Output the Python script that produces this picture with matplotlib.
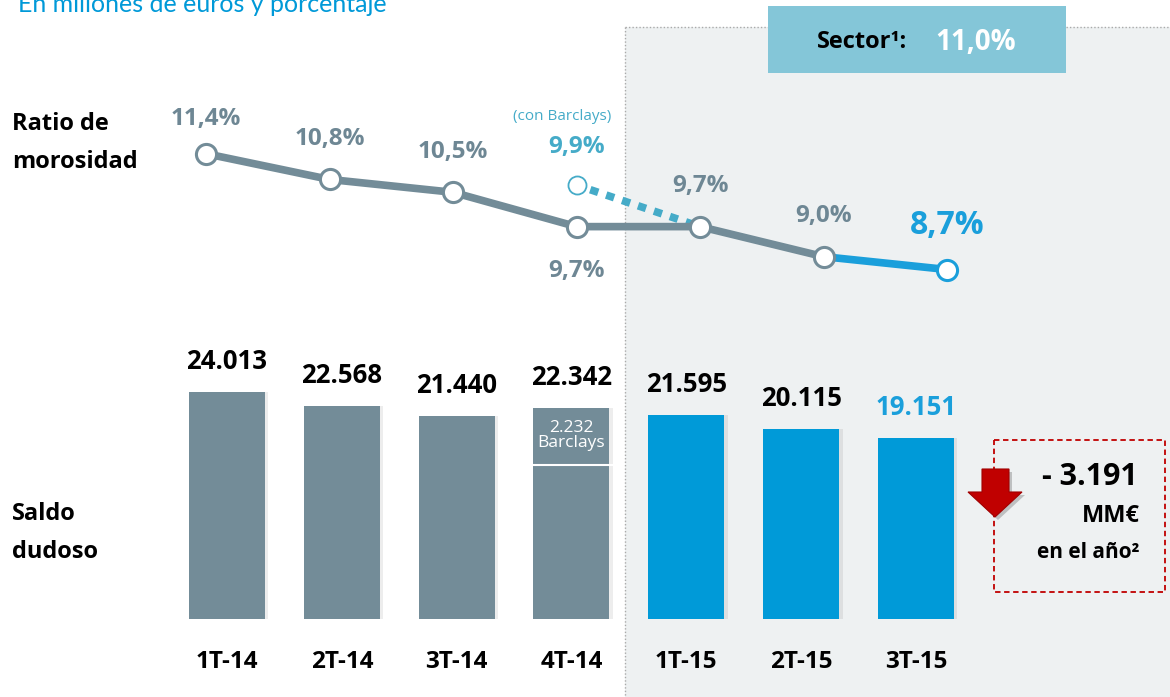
import matplotlib
matplotlib.use("Agg")
import matplotlib.pyplot as plt
from matplotlib.patches import Rectangle, Polygon
from matplotlib.transforms import ScaledTranslation

plt.rcParams['font.family'] = ['Open Sans', 'DejaVu Sans']

# datos
trimestres = ["1T-14", "2T-14", "3T-14", "4T-14", "1T-15", "2T-15", "3T-15"]
saldo_dudoso = [24013, 22568, 21440, 22342, 21595, 20115, 19151]
saldo_etiquetas = ["24.013", "22.568", "21.440", "22.342", "21.595", "20.115", "19.151"]
ratio_morosidad = [11.4, 10.8, 10.5, 9.7, 9.7, 9.0, 8.7]
ratio_etiquetas = ["11,4%", "10,8%", "10,5%", "9,7%", "9,7%", "9,0%", "8,7%"]
ratio_con_barclays = 9.9
barclays = 2232
sector = "11,0%"
reduccion = "- 3.191"

GRIS = "#738C98"
AZUL = "#009AD8"
AZUL_TXT = "#1A9FDB"
TEAL = "#45ABC8"
GRIS_TXT = "#6E8794"
ROJO = "#C00000"

W, H = 1170, 697
fig = plt.figure(figsize=(W / 100, H / 100), dpi=100)

# capa de fondo en pixeles
ax0 = fig.add_axes([0, 0, 1, 1])
ax0.set_xlim(0, W)
ax0.set_ylim(H, 0)
ax0.axis('off')

ax0.add_patch(Rectangle((625, 27), W - 625, H - 27, facecolor="#EEF1F2", edgecolor="none", zorder=0))
ax0.plot([625, 625], [27, H], color="#AAAAAA", lw=1, ls=(0, (1, 1.5)), zorder=1)
ax0.plot([625, W], [27, 27], color="#AAAAAA", lw=1, ls=(0, (1, 1.5)), zorder=1)
ax0.add_patch(Rectangle((768, 6), 298, 67, facecolor="#84C6D8", edgecolor="none", zorder=2))
ax0.text(862, 42, "Sector¹:", fontsize=17, fontweight='bold', color="black",
         ha='center', va='center', zorder=3)
ax0.text(976, 42, sector, fontsize=20, fontweight='bold', color="white", ha='center', va='center', zorder=3)

ax0.text(18, 12, "En millones de euros y porcentaje", fontsize=18, color="#0099D8",
         va='baseline', ha='left', family=['Lato', 'DejaVu Sans'])
ax0.text(12, 124, "Ratio de", fontsize=17, fontweight='bold', va='center')
ax0.text(12, 162, "morosidad", fontsize=17, fontweight='bold', va='center')
ax0.text(12, 514, "Saldo", fontsize=17, fontweight='bold', va='center')
ax0.text(12, 552, "dudoso", fontsize=17, fontweight='bold', va='center')

# caja roja
ax0.add_patch(Rectangle((994, 440), 171, 152, facecolor="none", edgecolor=ROJO, lw=1.3,
                        ls=(0, (3, 2)), zorder=3))
ax0.text(1090, 477, reduccion, fontsize=22, fontweight='bold', ha='center', va='center', zorder=4)
ax0.text(1140, 516, "MM€", fontsize=17, fontweight='bold', ha='right', va='center', zorder=4)
ax0.text(1088, 553, "en el año²", fontsize=15, fontweight='bold', ha='center', va='center', zorder=4)
flecha = [(982, 469), (1009, 469), (1009, 492), (1022, 492), (995, 517), (968, 492), (982, 492)]
ax0.add_patch(Polygon([(x + 3, y + 3) for x, y in flecha], closed=True, facecolor="#00000033",
                      edgecolor="none", zorder=4))
ax0.add_patch(Polygon(flecha, closed=True, facecolor=ROJO, edgecolor="#A00000", lw=0.8, zorder=5))

# barras
axb = fig.add_axes([0, 0, 1, 1])
axb.patch.set_alpha(0)
paso_b = 114.83
esc_b = 227 / 24013
axb.set_xlim(-227 / paso_b, (W - 227) / paso_b)
axb.set_ylim(-(H - 619) / esc_b, 619 / esc_b)
axb.axis('off')
x = list(range(len(trimestres)))
colores = [GRIS] * 4 + [AZUL] * 3
ancho = 76 / paso_b
axb.bar([i + 0.03 for i in x], saldo_dudoso, width=ancho, color="#00000012", zorder=2)
axb.bar(x, saldo_dudoso, width=ancho, color=colores, zorder=3)
for i, v in enumerate(saldo_dudoso):
    c = AZUL_TXT if i == len(x) - 1 else "black"
    axb.annotate(saldo_etiquetas[i], (i, v), xytext=(0, 22), textcoords='offset points',
                 fontsize=18.5, fontweight='bold', color=c, ha='center', va='center', zorder=4)
    axb.annotate(trimestres[i], (i, 0), xytext=(0, -31), textcoords='offset points',
                 fontsize=17.5, fontweight='bold', ha='center', va='center', zorder=4)
# tramo Barclays (dibujado como en el original, no a escala)
corte = saldo_dudoso[3] * 0.73
axb.plot([3 - ancho / 2, 3 + ancho / 2 + 0.07], [corte, corte], color="white", lw=1.5, zorder=4)
axb.annotate(f"{barclays:,}".replace(",", ".") + "\nBarclays", (3, saldo_dudoso[3]), xytext=(0, -20),
             textcoords='offset points', fontsize=12.5, color="white", ha='center', va='center',
             linespacing=0.95, zorder=4)

# linea de ratio
axl = fig.add_axes([0, 0, 1, 1])
axl.patch.set_alpha(0)
paso_l = 123.5
axl.set_xlim(-206 / paso_l, (W - 206) / paso_l)
pend = 42.9
axl.set_ylim(9.971 - (H - 215) / pend, 9.971 + 215 / pend)
axl.axis('off')
axl.plot(x[:6], ratio_morosidad[:6], color=GRIS, lw=5.5, solid_capstyle='round', zorder=3)
axl.plot(x[5:], ratio_morosidad[5:], color=AZUL_TXT, lw=5.5, solid_capstyle='round', zorder=3)

# punto "con Barclays": en el original se dibuja algo mas arriba que su escala
subir = ScaledTranslation(0, 0.33, fig.dpi_scale_trans)
p1 = (axl.transData + subir).transform((3, ratio_con_barclays))
p2 = axl.transData.transform((4, ratio_morosidad[4]))
inv = axl.transData.inverted()
q1, q2 = inv.transform(p1), inv.transform(p2)
axl.plot([q1[0], q2[0]], [q1[1], q2[1]], color=TEAL, lw=5.5, ls=(0.3, (1.1, 1.1)), zorder=2)
axl.plot([3], [ratio_con_barclays], marker='o', ms=13, mfc="white", mec=TEAL, mew=1.3, zorder=4,
         transform=axl.transData + subir)
axl.annotate("9,9%", (3, ratio_con_barclays), xytext=(0, 51), textcoords='offset points',
             fontsize=17.5, fontweight='bold', color=TEAL, ha='center', va='center', zorder=6)
axl.annotate("(con Barclays)", (3, ratio_con_barclays), xytext=(-10, 73), textcoords='offset points',
             fontsize=11, color=TEAL, ha='center', va='center', zorder=6)

for i, v in enumerate(ratio_morosidad):
    mec = AZUL_TXT if i == len(x) - 1 else GRIS
    axl.plot([i], [v], marker='o', ms=14.5, mfc="white", mec=mec, mew=2.2, zorder=5)
dy = [25, 29, 29, -32, 29, 29, 32]
for i, v in enumerate(ratio_morosidad):
    last = i == len(x) - 1
    axl.annotate(ratio_etiquetas[i], (i, v), xytext=(0, dy[i]), textcoords='offset points',
                 fontsize=23 if last else 17.5, fontweight='bold',
                 color=AZUL_TXT if last else GRIS_TXT, ha='center', va='center', zorder=6)

fig.savefig("out.png", dpi=100)
